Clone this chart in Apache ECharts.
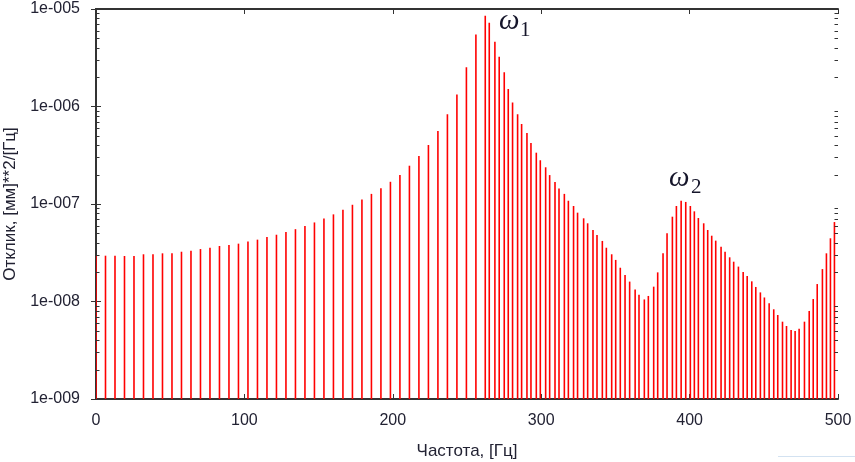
<!DOCTYPE html>
<html>
<head>
<meta charset="utf-8">
<script src="https://cdn.jsdelivr.net/npm/echarts@6/dist/echarts.min.js"></script>
<style>
  html, body { margin: 0; padding: 0; background: #ffffff; }
  #chart { width: 855px; height: 462px; }
</style>
</head>
<body>
<div id="chart"></div>
<script>
// Spectral response samples: frequency (Hz) and response ([mm]^2/[Hz])
const freqHz = [
  0, 6.4, 12.8, 19.2, 25.6, 32.0, 38.4, 44.8, 51.2, 57.6,
  64.0, 70.4, 76.8, 83.2, 89.6, 96.0, 102.4, 108.8, 115.2, 121.6,
  128.0, 134.4, 140.8, 147.2, 153.6, 160.0, 166.4, 172.8, 179.2, 185.6,
  192.0, 198.4, 204.8, 211.2, 217.6, 224.0, 230.4, 236.8, 243.2, 249.6,
  256.0, 262.3,
  265.0, 268.8, 271.7, 275.1, 277.8, 280.7, 284.1, 286.8, 290.4, 293.1,
  296.7, 299.4, 303.0, 305.7, 309.3, 312.0, 315.6, 318.3, 321.8, 324.5,
  328.6, 331.3, 334.9, 337.6, 341.2, 343.9, 347.5, 350.2, 353.3, 356.5,
  359.6, 363.3, 365.9, 369.5, 372.2, 375.8, 378.5, 382.1, 384.8, 388.4,
  391.1, 394.3, 397.4, 400.5, 403.2, 405.9, 409.5, 412.2, 414.9, 417.6,
  421.2, 423.9, 427.0, 429.7, 432.9, 436.1, 438.8, 441.9, 444.6, 447.7,
  450.4, 453.6, 456.7, 459.4, 462.6, 465.3, 468.4, 471.1, 473.8, 477.4,
  480.6, 483.3, 486.0, 489.5, 492.2, 494.9, 497.6
];
const response = [
  3.00e-8, 2.95e-8, 2.95e-8, 2.93e-8, 2.93e-8, 3.05e-8, 3.05e-8, 3.12e-8, 3.12e-8, 3.24e-8,
  3.32e-8, 3.45e-8, 3.56e-8, 3.71e-8, 3.79e-8, 3.92e-8, 4.12e-8, 4.31e-8, 4.59e-8, 4.84e-8,
  5.15e-8, 5.52e-8, 5.94e-8, 6.47e-8, 7.10e-8, 7.83e-8, 8.75e-8, 9.82e-8, 1.11e-7, 1.27e-7,
  1.45e-7, 1.69e-7, 1.98e-7, 2.47e-7, 3.10e-7, 4.03e-7, 5.61e-7, 8.32e-7, 1.33e-6, 2.52e-6,
  5.46e-6, 8.54e-6,
  7.24e-6, 4.62e-6, 3.24e-6, 2.24e-6, 1.51e-6, 1.10e-6, 8.32e-7, 6.62e-7, 5.35e-7, 4.23e-7,
  3.36e-7, 2.81e-7, 2.38e-7, 1.98e-7, 1.68e-7, 1.44e-7, 1.27e-7, 1.08e-7, 9.54e-8, 8.15e-8,
  7.13e-8, 6.34e-8, 5.41e-8, 4.81e-8, 4.18e-8, 3.56e-8, 3.05e-8, 2.67e-8, 2.22e-8, 1.87e-8,
  1.60e-8, 1.33e-8, 1.17e-8, 1.05e-8, 1.14e-8, 1.42e-8, 1.99e-8, 3.12e-8, 5.00e-8, 7.41e-8,
  9.54e-8, 1.08e-7, 1.05e-7, 9.54e-8, 8.41e-8, 7.18e-8, 6.34e-8, 5.41e-8, 4.73e-8, 4.21e-8,
  3.65e-8, 3.24e-8, 2.84e-8, 2.56e-8, 2.28e-8, 2.01e-8, 1.83e-8, 1.61e-8, 1.41e-8, 1.24e-8,
  1.10e-8, 9.59e-9, 8.32e-9, 7.27e-9, 6.21e-9, 5.61e-9, 5.10e-9, 4.98e-9, 5.26e-9, 6.21e-9,
  8.00e-9, 1.06e-8, 1.51e-8, 2.15e-8, 3.12e-8, 4.45e-8, 6.53e-8
];

// Axis ranges and tick labels
const xRange = [0, 500];
const xTickStep = 100;
const yRange = [1e-9, 1e-5];
const yDecadeLabels = ['1e-009', '1e-008', '1e-007', '1e-006', '1e-005'];
const yMinorTickValues = [
  2e-9, 3e-9, 4e-9, 5e-9, 6e-9, 7e-9, 8e-9, 9e-9,
  2e-8, 3e-8, 4e-8, 5e-8, 6e-8, 7e-8, 8e-8, 9e-8,
  2e-7, 3e-7, 4e-7, 5e-7, 6e-7, 7e-7, 8e-7, 9e-7,
  2e-6, 3e-6, 4e-6, 5e-6, 6e-6, 7e-6, 8e-6, 9e-6
];

const xTitle = 'Частота, [Гц]';
const yTitle = 'Отклик, [мм]**2/[Гц]';

const FONT = "'Liberation Sans', Arial, sans-serif";
const TEXT_COLOR = '#222233';
const FRAME_COLOR = '#333333';
const STEM_COLOR = '#ff0000';
const MATH_FONT = "'Liberation Serif', 'DejaVu Serif', serif";

const chart = echarts.init(document.getElementById('chart'), null, { renderer: 'canvas' });

function decadeLabel(v) {
  const e = Math.round(Math.log10(v));
  return yDecadeLabels[e + 9] || '';
}

const frameAxisLine = { show: true, lineStyle: { color: FRAME_COLOR, width: 2 } };
const innerTick = { show: true, inside: true, length: 5, lineStyle: { color: FRAME_COLOR, width: 1 } };

const option = {
  backgroundColor: '#ffffff',
  animation: false,
  grid: {
    left: 96, right: 17, top: 9, bottom: 63,
    containLabel: false,
    outerBoundsMode: 'none'
  },
  xAxis: [
    {
      type: 'value', position: 'bottom',
      min: xRange[0], max: xRange[1], interval: xTickStep,
      axisLine: frameAxisLine, axisTick: innerTick,
      splitLine: { show: false },
      axisLabel: { color: TEXT_COLOR, fontFamily: FONT, fontSize: 16, margin: 14 },
      name: xTitle, nameLocation: 'middle', nameGap: 44,
      nameTextStyle: { color: TEXT_COLOR, fontFamily: FONT, fontSize: 17 }
    },
    {
      type: 'value', position: 'top',
      min: xRange[0], max: xRange[1], interval: xTickStep,
      axisLine: frameAxisLine, axisTick: innerTick,
      splitLine: { show: false }, axisLabel: { show: false }
    }
  ],
  yAxis: [
    {
      type: 'log', logBase: 10, position: 'left',
      min: yRange[0], max: yRange[1],
      axisLine: frameAxisLine, axisTick: innerTick,
      splitLine: { show: false },
      axisLabel: { color: TEXT_COLOR, fontFamily: FONT, fontSize: 16, margin: 16, formatter: decadeLabel },
      name: yTitle, nameLocation: 'middle', nameGap: 69,
      nameTextStyle: { color: TEXT_COLOR, fontFamily: FONT, fontSize: 17 }
    },
    {
      type: 'log', logBase: 10, position: 'right',
      min: yRange[0], max: yRange[1],
      axisLine: frameAxisLine, axisTick: innerTick,
      splitLine: { show: false }, axisLabel: { show: false }
    }
  ],
  series: [
    {
      // vertical stems from the bottom of the axis up to each response value
      type: 'custom',
      coordinateSystem: 'cartesian2d',
      xAxisIndex: 0, yAxisIndex: 0,
      clip: true,
      data: freqHz.map((f, i) => [f, response[i]]),
      encode: { x: 0, y: 1 },
      renderItem: function (params, api) {
        const topPt = api.coord([api.value(0), api.value(1)]);
        const basePt = api.coord([api.value(0), yRange[0]]);
        return {
          type: 'line',
          shape: { x1: topPt[0], y1: basePt[1], x2: topPt[0], y2: topPt[1] },
          style: { stroke: STEM_COLOR, lineWidth: 1.6 }
        };
      }
    },
    {
      // logarithmic minor ticks on the left and right frame edges
      type: 'custom',
      coordinateSystem: 'cartesian2d',
      xAxisIndex: 0, yAxisIndex: 0,
      silent: true,
      data: yMinorTickValues.map(v => [xRange[0], v]),
      encode: { x: 0, y: 1 },
      renderItem: function (params, api) {
        const pt = api.coord([xRange[0], api.value(1)]);
        const right = api.coord([xRange[1], api.value(1)]);
        const y = Math.round(pt[1]) + 0.5;
        return {
          type: 'group',
          children: [
            { type: 'line', shape: { x1: pt[0], y1: y, x2: pt[0] + 3.5, y2: y },
              style: { stroke: FRAME_COLOR, lineWidth: 1 } },
            { type: 'line', shape: { x1: right[0], y1: y, x2: right[0] - 3.5, y2: y },
              style: { stroke: FRAME_COLOR, lineWidth: 1 } }
          ]
        };
      }
    }
  ],
  graphic: [
    { type: 'text', left: 499, top: 7,
      style: { text: 'ω', fill: '#15152a', font: "italic 29px " + MATH_FONT } },
    { type: 'text', left: 520, top: 20,
      style: { text: '1', fill: '#15152a', font: "21px " + MATH_FONT } },
    { type: 'text', left: 669, top: 164,
      style: { text: 'ω', fill: '#15152a', font: "italic 29px " + MATH_FONT } },
    { type: 'text', left: 691, top: 177,
      style: { text: '2', fill: '#15152a', font: "21px " + MATH_FONT } },
    { type: 'rect', left: 778, top: 456, shape: { width: 77, height: 1 },
      style: { fill: '#d3e2f1' } }
  ]
};

chart.setOption(option);
</script>
</body>
</html>
